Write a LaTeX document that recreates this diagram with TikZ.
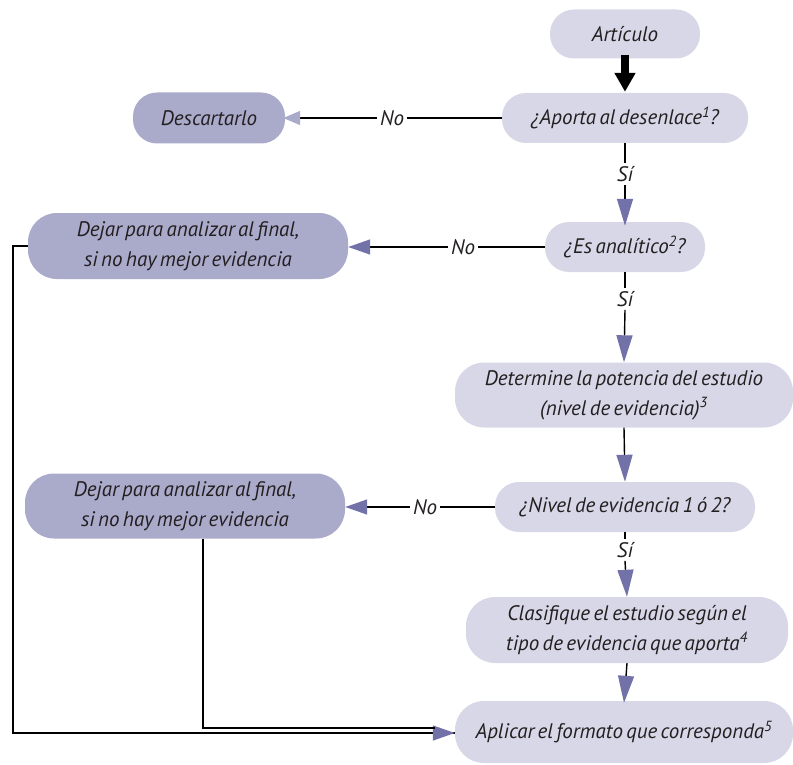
\documentclass[tikz,border=0pt]{standalone}
\usepackage{fontspec}
\setmainfont{PT Sans}[WordSpace=0.6]
\usetikzlibrary{arrows.meta,calc}
\definecolor{lightbox}{HTML}{D8D7E8}
\definecolor{darkbox}{HTML}{AAAACB}
\definecolor{arrowc}{HTML}{7271A8}
\definecolor{txt}{HTML}{231F20}
\tikzset{
  basebox/.style={inner sep=0pt, align=center, text=txt,
    font=\fontsize{21}{30}\selectfont\itshape},
  lightpill/.style={basebox, fill=lightbox, rounded corners=24pt},
  darkpill/.style={basebox, fill=darkbox, rounded corners=24pt},
  tall/.style={rounded corners=29pt},
  lab/.style={inner sep=3pt, text=txt, font=\fontsize{21}{22}\selectfont\itshape},
  conn/.style={draw=black, line width=1.4pt},
  vtip/.style={conn, -{Triangle[width=16pt,length=27pt,color=arrowc]}},
  htip/.style={conn, -{Triangle[width=15pt,length=22pt,color=arrowc]}},
  dtip/.style={conn, -{Triangle[width=14pt,length=17pt,color=darkbox]}},
}
\begin{document}
\begin{tikzpicture}[x=1pt,y=-1pt]
\useasboundingbox (0,0) rectangle (793,765);

% nodes
\node[lightpill, minimum width=150pt, minimum height=49pt] (art) at (625,34) {Artículo};
\node[lightpill, minimum width=246pt, minimum height=50pt] (aporta) at (625,118) {¿Aporta al desenlace\textsuperscript{1}?};
\node[darkpill, minimum width=152pt, minimum height=51pt] (desc) at (209,118) {Descartarlo};
\node[lightpill, minimum width=160pt, minimum height=50pt] (esan) at (625,247) {¿Es analítico\textsuperscript{2}?};
\node[darkpill, tall, minimum width=320pt, minimum height=66pt] (dejar1) at (188,246) {Dejar para analizar al final,\\si no hay mejor evidencia};
\node[lightpill, tall, minimum width=338pt, minimum height=65pt] (det) at (624,395) {Determine la potencia del estudio\\(nivel de evidencia)\textsuperscript{3}};
\node[lightpill, minimum width=260pt, minimum height=50pt] (nivel) at (625,507) {¿Nivel de evidencia 1 ó 2?};
\node[darkpill, tall, minimum width=320pt, minimum height=65pt] (dejar2) at (185,506) {Dejar para analizar al final,\\si no hay mejor evidencia};
\node[lightpill, tall, minimum width=322pt, minimum height=66pt] (clas) at (627,630) {Clasifique el estudio según el\\tipo de evidencia que aporta\textsuperscript{4}};
\node[lightpill, tall, minimum width=338pt, minimum height=62pt] (apl) at (624,732) {Aplicar el formato que corresponda\textsuperscript{5}};

% labels
\node[lab] (si1) at (625,174) {Sí};
\node[lab] (si2) at (625,299) {Sí};
\node[lab] (si3) at (625,550) {Sí};
\node[lab] (no1) at (392,118) {No};
\node[lab] (no2) at (463,247) {No};
\node[lab] (no3) at (425,507) {No};

% black arrow
\draw[line width=8pt, -{Triangle[width=20pt,length=19pt]}] ([yshift=4pt]art.south) -- ([yshift=1pt]aporta.north);

% vertical connectors
\draw[conn] (aporta.south) -- (si1.north);
\draw[vtip] (si1.south) -- ([yshift=-4pt]esan.north);
\draw[conn] (esan.south) -- (si2.north);
\draw[vtip] (si2.south) -- (det.north);
\draw[vtip] (det.south) -- (nivel.north);
\draw[conn] (nivel.south) -- (si3.north);
\draw[vtip] (si3.south) -- (clas.north);
\draw[vtip] (clas.south) -- ([yshift=-2pt]apl.north);

% horizontal No connectors
\draw[conn] (aporta.west) -- (aporta.west -| no1.east);
\draw[dtip] (aporta.west -| no1.west) -- ([xshift=-2pt]aporta.west -| desc.east);
\draw[conn] (esan.west) -- (esan.west -| no2.east);
\draw[htip] (esan.west -| no2.west) -- (esan.west -| dejar1.east);
\draw[conn] (nivel.west) -- (nivel.west -| no3.east);
\draw[htip] (nivel.west -| no3.west) -- (nivel.west -| dejar2.east);

% return connectors
\coordinate (lft) at (13,0);
\coordinate (d2x) at (203,0);
\draw[conn] (dejar1.west) -- (dejar1.west -| lft) |- ([yshift=-1pt]apl.west);
\draw[htip] ([yshift=-1pt]apl.west -| lft) -- ([yshift=-1pt]apl.west);
\draw[conn] (dejar2.south -| d2x) |- ([yshift=4pt,xshift=-20pt]apl.west);
\end{tikzpicture}
\end{document}
